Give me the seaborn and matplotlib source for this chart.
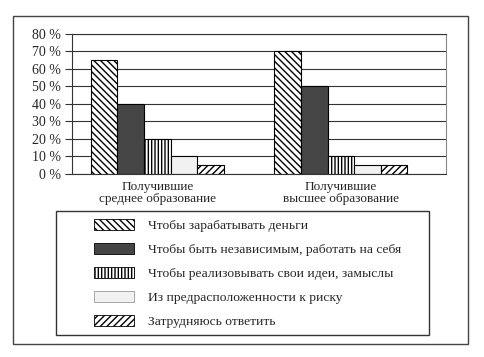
import pandas as pd
import matplotlib
matplotlib.use("Agg")
import matplotlib.pyplot as plt
from matplotlib.patches import Patch, Rectangle
import seaborn as sns

# Данные
groups = ["Получившие\nсреднее образование", "Получившие\nвысшее образование"]
reasons = [
    "Чтобы зарабатывать деньги",
    "Чтобы быть независимым, работать на себя",
    "Чтобы реализовывать свои идеи, замыслы",
    "Из предрасположенности к риску",
    "Затрудняюсь ответить",
]
values_secondary = [65, 40, 20, 10, 5]
values_higher = [70, 50, 10, 5, 5]
yticks = [0, 10, 20, 30, 40, 50, 60, 70, 80]

fills = ["white", "#454545", "white", "#f1f1f1", "white"]
hatches = ["\\\\\\\\\\", "", "|||||", "", "/////"]

rows = []
for g, vals in zip(groups, [values_secondary, values_higher]):
    for r, v in zip(reasons, vals):
        rows.append({"group": g, "reason": r, "value": v})
df = pd.DataFrame(rows)

sns.set_style("white")
plt.rcParams['font.family'] = ['Liberation Serif', 'DejaVu Serif']
plt.rcParams['hatch.linewidth'] = 1.0
plt.rcParams['hatch.color'] = 'black'

fig = plt.figure(figsize=(4.85, 3.57), dpi=100)
ax = fig.add_axes([71.7 / 485, 1 - 174 / 357, (445.7 - 71.7) / 485, (174 - 33.5) / 357])

sns.barplot(data=df, x="group", y="value", hue="reason", hue_order=reasons,
            palette=fills, edgecolor="black", linewidth=0.8, width=0.724,
            saturation=1, legend=False, ax=ax)

for cont, h in zip(ax.containers, hatches):
    for bar in cont:
        bar.set_hatch(h)

ax.set_xlim(-0.466, 1.570)
ax.set_ylim(0, 80)
ax.set_yticks(yticks)
ax.set_yticklabels([f"{t} %" for t in yticks], fontsize=10)
ax.yaxis.grid(True, color="#333333", linewidth=0.8)
ax.set_axisbelow(True)
ax.set_xlabel("")
ax.set_ylabel("")
ax.tick_params(axis="y", direction="out", length=5, width=0.8, color="#333333", pad=3, left=True)
ax.tick_params(axis="x", length=0, pad=5, labelsize=9.5)
for lab in ax.get_xticklabels():
    lab.set_linespacing(1.05)
for s in ax.spines.values():
    s.set_color("#333333")
    s.set_linewidth(0.8)
ax.spines["right"].set_color("#888888")

# Рамки
W, H = 485, 357
fig.patches.append(Rectangle((13 / W, 1 - 344 / H), (468 - 13) / W, (344 - 16) / H,
                             transform=fig.transFigure, fill=False,
                             edgecolor="#444444", linewidth=1.0))
fig.patches.append(Rectangle((56 / W, 1 - 335 / H), (429 - 56) / W, (335 - 211) / H,
                             transform=fig.transFigure, fill=False,
                             edgecolor="#333333", linewidth=1.0))

handles = [Patch(facecolor=f, edgecolor="black" if f != "#f1f1f1" else "#999999",
                 hatch=h, linewidth=0.6) for f, h in zip(fills, hatches)]
fig.legend(handles, reasons, loc="upper left", bbox_to_anchor=(94 / W, 1 - 219 / H),
           frameon=False, fontsize=9.7, handlelength=3.0, handleheight=0.9,
           handletextpad=1.0, labelspacing=0.8, borderpad=0, borderaxespad=0)

fig.savefig("out.png", dpi=100)
